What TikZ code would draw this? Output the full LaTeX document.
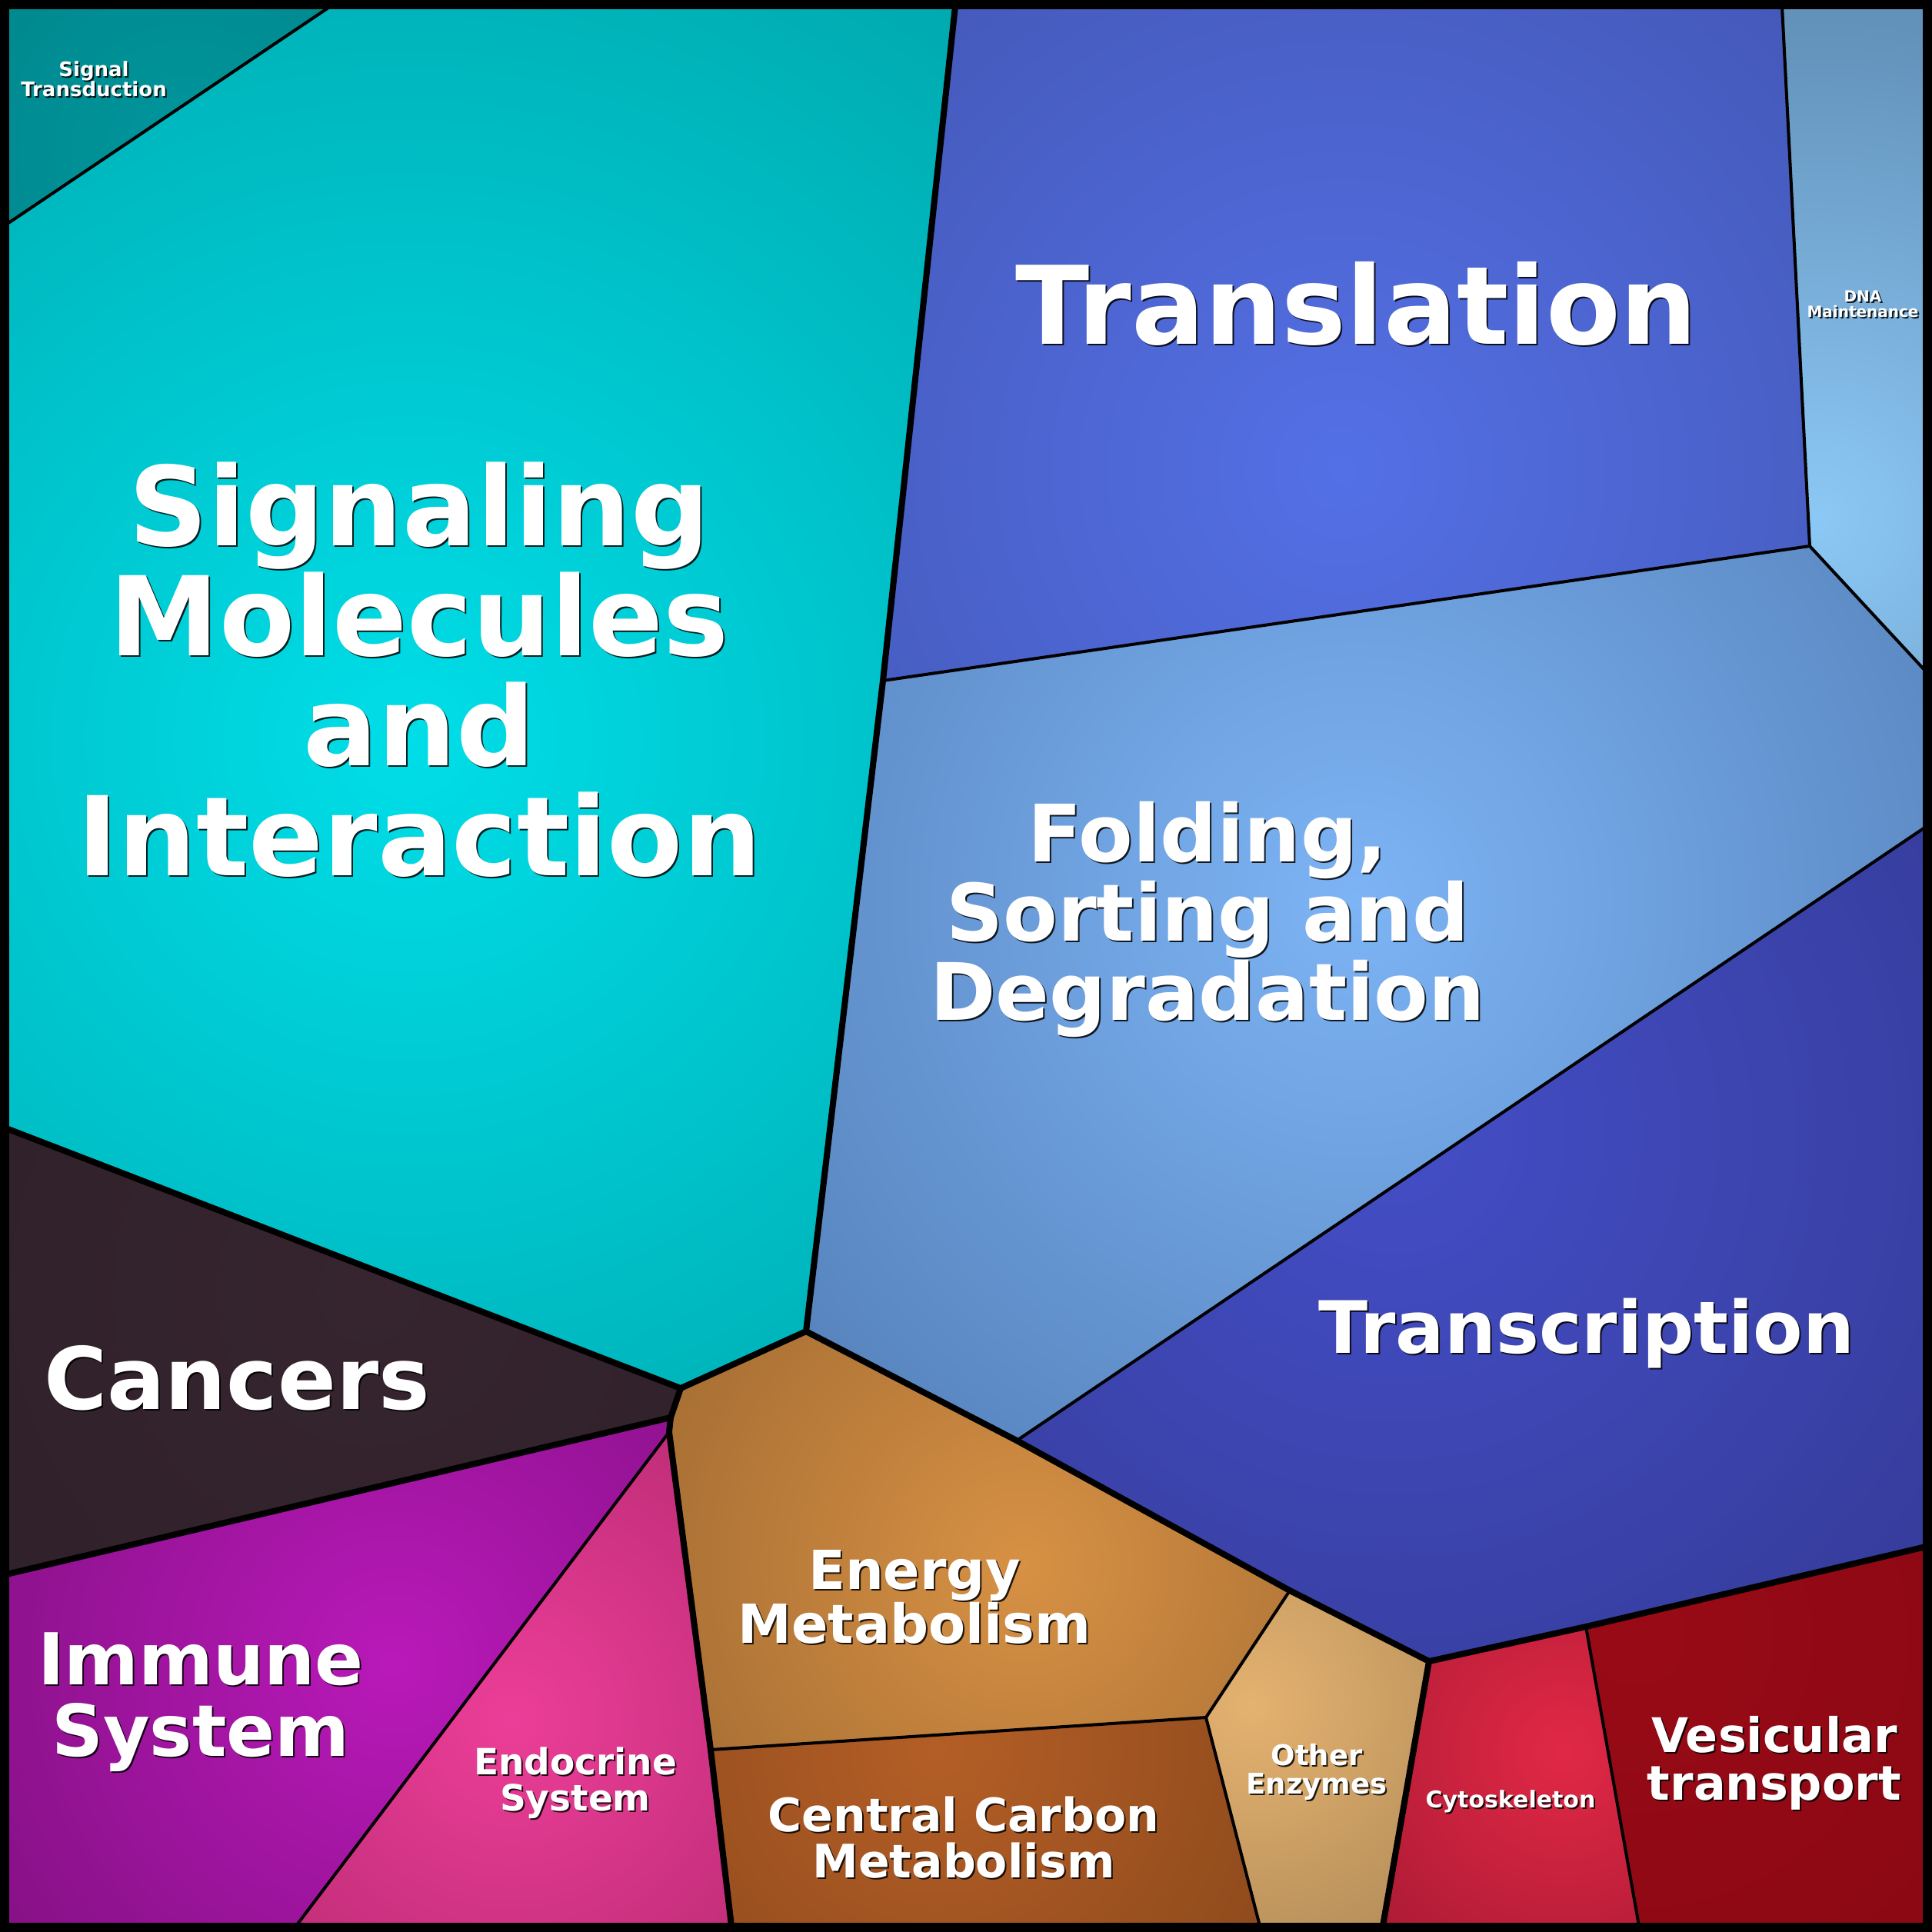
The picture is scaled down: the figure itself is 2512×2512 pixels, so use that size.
\documentclass[tikz,border=0pt]{standalone}
\usepackage{fontspec}
\setmainfont{DejaVu Sans}
\definecolor{stIn}{RGB}{0,150,156}\definecolor{stOut}{RGB}{0,128,134}
\definecolor{smIn}{RGB}{0,222,232}\definecolor{smOut}{RGB}{0,158,163}
\definecolor{trIn}{RGB}{84,112,230}\definecolor{trOut}{RGB}{62,80,168}
\definecolor{dnIn}{RGB}{140,200,245}\definecolor{dnOut}{RGB}{98,145,185}
\definecolor{foIn}{RGB}{125,180,245}\definecolor{foOut}{RGB}{78,120,175}
\definecolor{tcIn}{RGB}{68,78,198}\definecolor{tcOut}{RGB}{52,58,150}
\definecolor{caIn}{RGB}{54,37,47}\definecolor{caOut}{RGB}{42,28,36}
\definecolor{imIn}{RGB}{185,25,185}\definecolor{imOut}{RGB}{125,15,125}
\definecolor{enIn}{RGB}{236,62,152}\definecolor{enOut}{RGB}{178,40,110}
\definecolor{emIn}{RGB}{215,145,68}\definecolor{emOut}{RGB}{155,102,48}
\definecolor{ccIn}{RGB}{180,94,38}\definecolor{ccOut}{RGB}{130,68,25}
\definecolor{oeIn}{RGB}{228,178,112}\definecolor{oeOut}{RGB}{165,130,82}
\definecolor{cyIn}{RGB}{225,40,70}\definecolor{cyOut}{RGB}{165,25,50}
\definecolor{veIn}{RGB}{152,10,22}\definecolor{veOut}{RGB}{135,8,18}
\newcommand\fsz[1]{\fontsize{#1}{#1}\selectfont\bfseries}
\tikzset{
  lbltext/.style={text=white, align=center, inner sep=0pt, anchor=center},
  lblshadow/.style={text=black, align=center, inner sep=0pt, anchor=center, opacity=0.85},
  thinedge/.style={line width=4pt, line join=round},
  thickedge/.style={line width=8pt, line join=round, line cap=round},
}
\newcommand\cell[6]{%
  \begin{scope}
    \clip #1;
    \fill[#3] #1;
    \shade[inner color=#2, outer color=#3] (#4,#5) circle (#6);
  \end{scope}}
\newcommand\lab[5]{%
  \node[lblshadow,font=\fsz{#4}] (#1-sh) at (#2+2,#3+2) {#5};
  \node[lbltext,font=\fsz{#4}] (#1) at (#2,#3) {#5};}
\begin{document}
\begin{tikzpicture}[x=1pt,y=-1pt]
\useasboundingbox (0,0) rectangle (2512,2512);
\coordinate (TL) at (8,8);
\coordinate (TR) at (2504,8);
\coordinate (BR) at (2504,2504);
\coordinate (BL) at (8,2504);
\coordinate (A) at (430,8);
\coordinate (B) at (8,292);
\coordinate (C) at (1242,8);
\coordinate (D) at (1148,885);
\coordinate (E) at (2317,8);
\coordinate (F) at (2353,710);
\coordinate (G) at (2504,873);
\coordinate (H) at (2504,1075);
\coordinate (I) at (1322,1873);
\coordinate (J) at (1048,1731);
\coordinate (K) at (885,1805);
\coordinate (L) at (8,1467);
\coordinate (M) at (872,1843);
\coordinate (N) at (8,2047);
\coordinate (O) at (870,1862);
\coordinate (P) at (385,2504);
\coordinate (Q) at (924,2275);
\coordinate (R) at (951,2504);
\coordinate (S) at (1568,2233);
\coordinate (T) at (1677,2068);
\coordinate (U) at (1638,2504);
\coordinate (V) at (1858,2160);
\coordinate (W) at (1798,2504);
\coordinate (X) at (2062,2115);
\coordinate (Y) at (2131,2504);
\coordinate (Z) at (2504,2011);
% cells
\cell{(TL) -- (A) -- (B) -- cycle}{stIn}{stOut}{240}{200}{500pt}
\cell{(A) -- (C) -- (D) -- (J) -- (K) -- (L) -- (B) -- cycle}{smIn}{smOut}{530}{960}{1450pt}
\cell{(C) -- (E) -- (F) -- (D) -- cycle}{trIn}{trOut}{1745}{610}{1150pt}
\cell{(E) -- (TR) -- (G) -- (F) -- cycle}{dnIn}{dnOut}{2363}{673}{650pt}
\cell{(D) -- (F) -- (G) -- (H) -- (I) -- (J) -- cycle}{foIn}{foOut}{1762}{1170}{1150pt}
\cell{(H) -- (Z) -- (X) -- (V) -- (T) -- (I) -- cycle}{tcIn}{tcOut}{1810}{1474}{1000pt}
\cell{(L) -- (K) -- (M) -- (N) -- cycle}{caIn}{caOut}{480}{1680}{1200pt}
\cell{(N) -- (M) -- (O) -- (P) -- (BL) -- cycle}{imIn}{imOut}{513}{2163}{720pt}
\cell{(O) -- (Q) -- (R) -- (P) -- cycle}{enIn}{enOut}{665}{2235}{560pt}
\cell{(J) -- (I) -- (T) -- (S) -- (Q) -- (O) -- (M) -- (K) -- cycle}{emIn}{emOut}{1330}{2035}{650pt}
\cell{(Q) -- (S) -- (U) -- (R) -- cycle}{ccIn}{ccOut}{1218}{2275}{650pt}
\cell{(T) -- (V) -- (W) -- (U) -- (S) -- cycle}{oeIn}{oeOut}{1627}{2217}{470pt}
\cell{(V) -- (X) -- (Y) -- (W) -- cycle}{cyIn}{cyOut}{2033}{2277}{380pt}
\cell{(X) -- (Z) -- (BR) -- (Y) -- cycle}{veIn}{veOut}{2130}{2130}{700pt}
% thin edges
\draw[thinedge] (A) -- (B);
\draw[thinedge] (D) -- (F) -- (E);
\draw[thinedge] (F) -- (G);
\draw[thinedge] (H) -- (I);
\draw[thinedge] (O) -- (P);
\draw[thinedge] (Q) -- (S) -- (T);
\draw[thinedge] (S) -- (U);
\draw[thinedge] (X) -- (Y);
% thick edges
\draw[thickedge] (C) -- (D) -- (J) -- (K) -- (L);
\draw[thickedge] (J) -- (I) -- (T) -- (V) -- (X) -- (Z);
\draw[thickedge] (K) -- (M) -- (N);
\draw[thickedge] (M) -- (O) -- (Q) -- (R);
\draw[thickedge] (V) -- (W);
% border
\draw[line width=12pt] (6,6) rectangle (2506,2506);
% labels
\lab{sigtrans}{122}{103}{26}{Signal\\Transduction}
\lab{sigmol}{545}{871}{143}{Signaling\\Molecules\\and\\Interaction}
\lab{transl}{1764}{395}{141}{Translation}
\lab{dna}{2422}{395}{20}{DNA\\Maintenance}
\lab{fold}{1570}{1195}{103}{Folding,\\Sorting and\\Degradation}
\lab{transc}{2063}{1734}{94}{Transcription}
\lab{cancer}{308}{1792}{112}{Cancers}
\lab{immune}{261}{2213}{93}{Immune\\System}
\lab{endo}{748}{2318}{47}{Endocrine\\System}
\lab{energy}{1189}{2076}{70}{Energy\\Metabolism}
\lab{central}{1253}{2389}{60}{Central Carbon\\Metabolism}
\lab{other}{1712}{2304}{37}{Other\\Enzymes}
\lab{cyto}{1964}{2342}{30}{Cytoskeleton}
\lab{vesic}{2307}{2292}{62}{Vesicular\\transport}
\end{tikzpicture}
\end{document}
